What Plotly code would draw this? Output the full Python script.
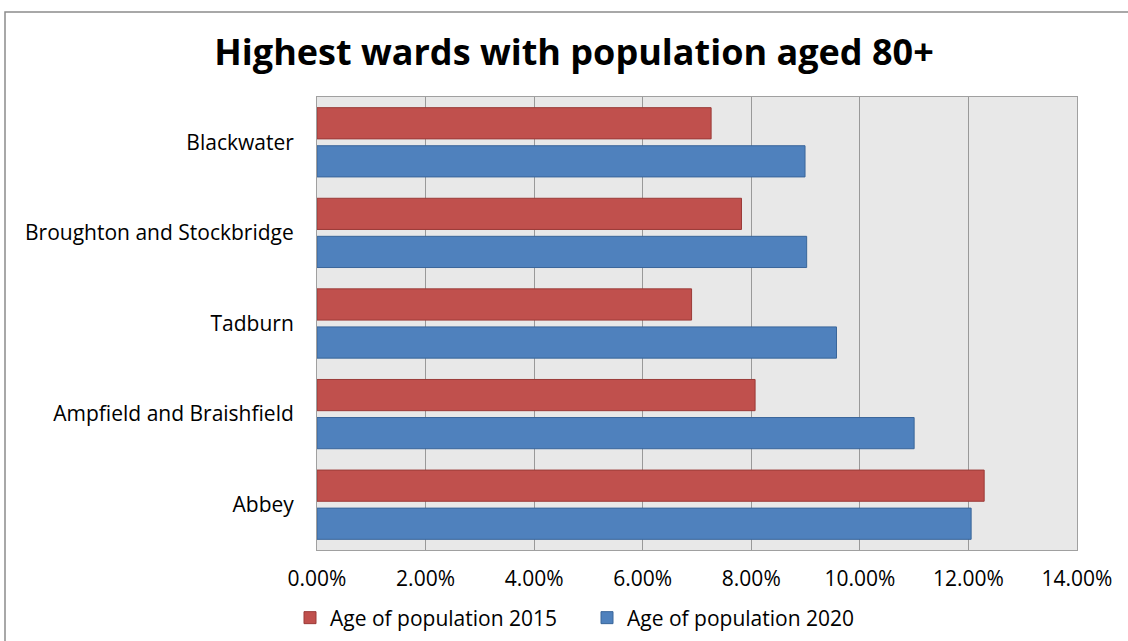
import plotly.graph_objects as go

wards = ["Abbey", "Ampfield and Braishfield", "Tadburn", "Broughton and Stockbridge", "Blackwater"]
pop_2015 = [0.1229, 0.0807, 0.0690, 0.0782, 0.0726]
pop_2020 = [0.1205, 0.1100, 0.0957, 0.0902, 0.0899]
x_ticks = [0, 0.02, 0.04, 0.06, 0.08, 0.10, 0.12, 0.14]

FONT = "Open Sans"

fig = go.Figure()
fig.add_trace(go.Bar(
    y=wards, x=pop_2020, orientation="h", name="Age of population 2020",
    marker=dict(color="#4F81BD", line=dict(color="#3A669A", width=1)),
))
fig.add_trace(go.Bar(
    y=wards, x=pop_2015, orientation="h", name="Age of population 2015",
    marker=dict(color="#C0504D", line=dict(color="#9B3B38", width=1)),
))

fig.update_layout(
    width=1128, height=641,
    margin=dict(l=317, r=51, t=97, b=91, autoexpand=False),
    paper_bgcolor="white",
    plot_bgcolor="#E8E8E8",
    barmode="group",
    bargap=0.16,
    bargroupgap=0.18,
    font=dict(family=FONT, size=21, color="black"),
    title=dict(
        text="<b>Highest wards with population aged 80+</b>",
        x=574 / 1128, xanchor="center", xref="container",
        y=1 - 52 / 641, yanchor="middle",
        font=dict(family=FONT, size=36, color="black"),
    ),
    showlegend=True,
    legend=dict(
        orientation="h", traceorder="reversed",
        x=(290 - 317) / 760, xanchor="left",
        y=(550 - 618) / 453, yanchor="middle",
        font=dict(family=FONT, size=21),
        entrywidth=252, entrywidthmode="pixels",
    ),
    xaxis=dict(
        range=[0, 0.14], tickvals=x_ticks, tickformat=".2%",
        showgrid=True, gridcolor="#999999", gridwidth=1,
        showline=True, linecolor="#A0A0A0", mirror=True,
        ticks="outside", ticklen=10, tickcolor="rgba(0,0,0,0)",
        zeroline=False, fixedrange=True,
    ),
    yaxis=dict(
        showgrid=False, showline=True, linecolor="#A0A0A0", mirror=True,
        ticks="outside", ticklen=18, tickcolor="rgba(0,0,0,0)",
        fixedrange=True,
    ),
    shapes=[dict(
        type="rect", xref="paper", yref="paper",
        x0=(5 - 317) / 760, x1=1.2, y0=-0.3, y1=(550 - 12) / 453,
        line=dict(color="#8C8C8C", width=1.5), fillcolor="rgba(0,0,0,0)",
        layer="below",
    )],
)

fig.write_html("out.html", config={"displayModeBar": False},
               post_script="document.body.style.margin='0px';")
